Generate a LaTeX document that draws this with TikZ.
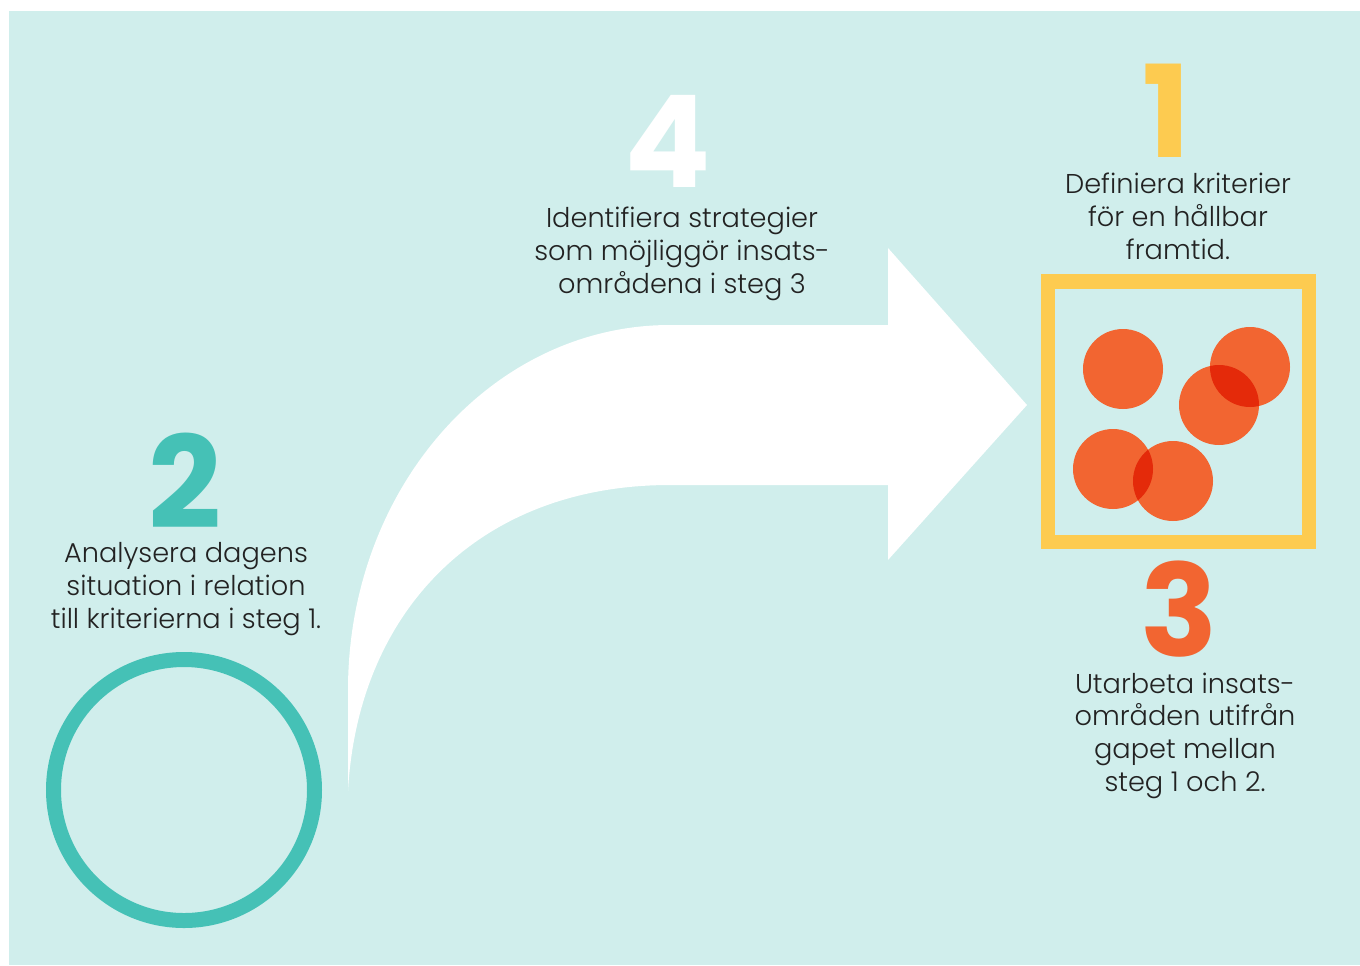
\documentclass[tikz,border=0pt]{standalone}
\usepackage{fontspec}
\newfontfamily\txtfont{Poppins Light}
\newfontfamily\numfont{Poppins}
\definecolor{bgteal}{HTML}{D0EEEC}
\definecolor{ringteal}{HTML}{45C1B6}
\definecolor{boxyellow}{HTML}{FDCB50}
\definecolor{dotorange}{HTML}{F26531}
\definecolor{dotred}{HTML}{E42A0A}
\definecolor{txtgray}{HTML}{222222}
\begin{document}
\begin{tikzpicture}[x=0.75pt,y=-0.75pt,
  bodytext/.style={text=txtgray,font=\txtfont\fontsize{20.4}{24.4}\selectfont,align=center,inner sep=0pt,anchor=base},
  bignum/.style={font=\numfont\bfseries\fontsize{96}{96}\selectfont,inner sep=0pt,anchor=base,text depth=0pt},
  dot/.style={fill=dotorange},
  overlapdot/.style={fill=dotred}]
\useasboundingbox (0,0) rectangle (1360,965);
\fill[white] (0,0) rectangle (1360,965);
\fill[bgteal] (9,11) rectangle (1360,965);

% arrow
\fill[white] (348,791) -- (348,690) .. controls (348,488) and (492,325) .. (670,325)
  -- (888,325) -- (888,248) -- (1027,405) -- (888,560) -- (888,485) -- (670,485)
  .. controls (480,485) and (358,610) .. (348,791) -- cycle;

% ring (step 2)
\coordinate (ringc) at (184,790);
\draw[ringteal,line width=11.25pt] (ringc) circle (130.5);

% box (steps 1/3)
\draw[boxyellow,line width=10.9pt] (1048,281.5) rectangle (1309,542);

% dots
\coordinate (d1) at (1123,369);
\coordinate (d2) at (1250,367);
\coordinate (d3) at (1219,405);
\coordinate (d4) at (1113,469);
\coordinate (d5) at (1173,481);
\foreach \d in {d1,d2,d3,d4,d5} {\fill[dot] (\d) circle (40);}
\begin{scope}\clip (d2) circle (40); \fill[overlapdot] (d3) circle (40);\end{scope}
\begin{scope}\clip (d4) circle (40); \fill[overlapdot] (d5) circle (40);\end{scope}

% numbers
\node[bignum,text=white] (n4) at (668,187) {4};
\node[bignum,text=boxyellow] (n1) at (1167,157) {1};
\node[bignum,text=ringteal] (n2) at (185,528) {2};
\node[bignum,text=dotorange] (n3) at (1179,656) {3};

% texts (anchor = baseline of last line)
\node[bodytext] (t4) at (682,293) {Identifiera strategier\\som möjliggör insats-\\områdena i steg 3};
\node[bodytext] (t1) at (1178,259) {Definiera kriterier\\för en hållbar\\framtid.};
\node[bodytext] (t2) at (186,628) {Analysera dagens\\situation i relation\\till kriterierna i steg 1.};
\node[bodytext] (t3) at (1185,791) {Utarbeta insats-\\områden utifrån\\gapet mellan\\steg 1 och 2.};
\end{tikzpicture}
\end{document}
